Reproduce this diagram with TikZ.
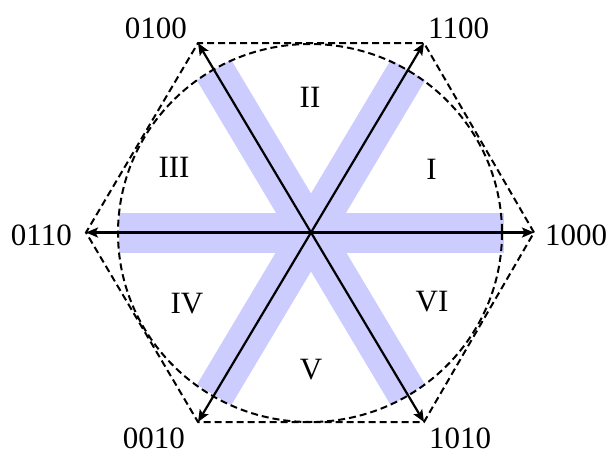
\documentclass[tikz,border=0pt]{standalone}
\usepackage{fontspec}
\setmainfont{Liberation Serif}
\usetikzlibrary{arrows.meta}
\definecolor{bandblue}{RGB}{204,204,255}
\begin{document}
\begin{tikzpicture}[x=1pt,y=-1pt,
  band/.style={draw=bandblue,line width=40pt,line cap=butt},
  dashline/.style={draw=black,line width=2pt,dash pattern=on 7pt off 4pt},
  vec/.style={draw=black,line width=2.2pt,-{Stealth[length=12pt,width=10pt,inset=2.5pt]}},
  lbl/.style={font=\fontsize{31}{36}\selectfont,inner sep=0pt}]
\useasboundingbox (0,0) rectangle (606,456);
% centre and hexagon vertices
\coordinate (O) at (311,232.5);
\coordinate (R) at (534,232.5);
\coordinate (UR) at (424,43);
\coordinate (UL) at (198,43);
\coordinate (L) at (86,232.5);
\coordinate (LL) at (198,422);
\coordinate (LR) at (424,422);
% band ends
\coordinate (bh1) at (119,232.5);
\coordinate (bh2) at (504,232.5);
\coordinate (bp1) at (214,70);
\coordinate (bp2) at (408,395);
\coordinate (bq1) at (408,70);
\coordinate (bq2) at (214,395);
% blue bands
\draw[band] (bh1) -- (bh2);
\draw[band] (bp1) -- (bp2);
\draw[band] (bq1) -- (bq2);
% dashed circle and hexagon
\draw[dashline] (310,233) ellipse [x radius=192, y radius=189];
\draw[dashline] (R) -- (UR) -- (UL) -- (L) -- (LL) -- (LR) -- cycle;
% vectors
\draw[vec] (O) -- (R);
\draw[vec] (O) -- (UR);
\draw[vec] (O) -- (UL);
\draw[vec] (O) -- (L);
\draw[vec] (O) -- (LL);
\draw[vec] (O) -- (LR);
% vertex labels
\node[lbl,anchor=base west] (t1000) at (545,245) {1000};
\node[lbl,anchor=base east] (t0110) at (72,245) {0110};
\node[lbl,anchor=base east] (t0100) at (187,38) {0100};
\node[lbl,anchor=base west] (t1100) at (428,38) {1100};
\node[lbl,anchor=base east] (t0010) at (185,448) {0010};
\node[lbl,anchor=base west] (t1010) at (429,448) {1010};
% sector labels
\node[lbl] (sI) at (431.5,169) {I};
\node[lbl] (sII) at (310,97) {II};
\node[lbl] (sIII) at (174,167) {III};
\node[lbl] (sIV) at (187,303.5) {IV};
\node[lbl] (sV) at (311,370) {V};
\node[lbl] (sVI) at (432,302) {VI};
\end{tikzpicture}
\end{document}
